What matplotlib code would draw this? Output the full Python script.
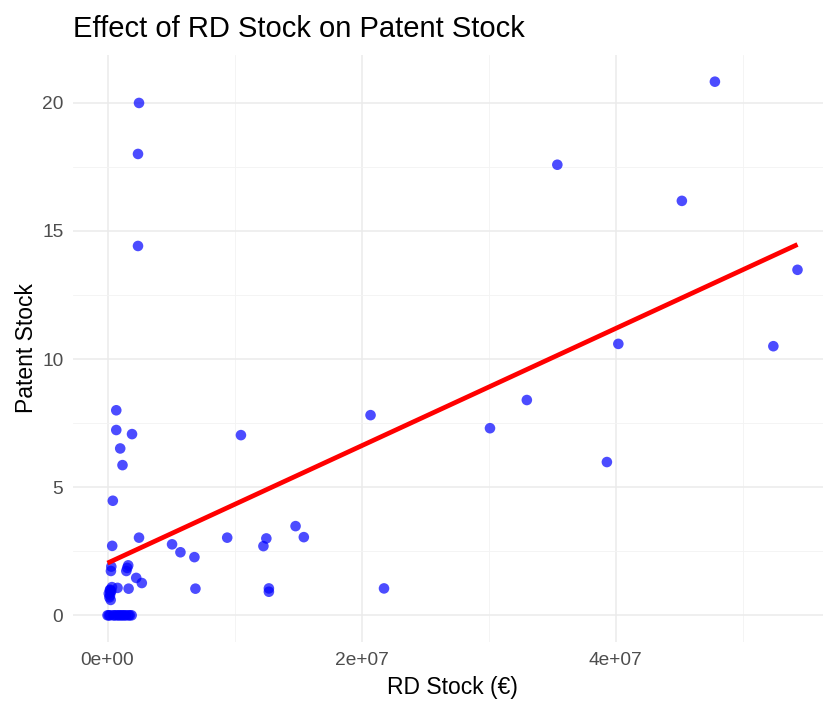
import matplotlib
matplotlib.use("Agg")
import matplotlib.pyplot as plt
import numpy as np
from matplotlib.ticker import MultipleLocator, FixedLocator

plt.rcParams['font.family'] = ['Liberation Sans', 'DejaVu Sans']

rd_stock = [
    0.69e6, 0.69e6, 1.93e6, 1.0e6, 1.18e6, 0.42e6, 10.5e6, 2.48e6, 0.37e6,
    5.08e6, 5.74e6, 6.84e6, 9.42e6, 12.27e6, 12.5e6, 1.63e6, 1.48e6, 1.55e6,
    2.26e6, 2.7e6, 0.27e6, 0.3e6, 0.2e6, 0.25e6, 0.2e6, 0.79e6, 1.66e6,
    6.92e6, 12.7e6, 12.7e6,
    0.1e6, 0.3e6, 0.15e6, 0.35e6, 0.25e6, 0.2e6,
    0.0, 0.2e6, 0.45e6, 0.7e6, 0.95e6, 1.2e6, 1.45e6, 1.65e6, 1.9e6,
    0.1e6, 0.55e6, 0.85e6, 1.1e6, 1.35e6, 1.75e6,
    2.48e6, 2.4e6, 2.4e6,
    14.8e6, 15.45e6, 20.7e6, 21.76e6, 30.1e6, 33.0e6, 35.4e6, 39.3e6,
    40.2e6, 45.2e6, 47.8e6, 52.4e6, 54.3e6,
]
patent_stock = [
    8.0, 7.23, 7.07, 6.51, 5.86, 4.47, 7.03, 3.03, 2.71,
    2.77, 2.46, 2.27, 3.03, 2.70, 3.0, 1.95, 1.73, 1.85,
    1.46, 1.26, 1.73, 1.9, 0.98, 0.91, 0.78, 1.07, 1.04,
    1.04, 1.05, 0.92,
    0.85, 0.95, 0.7, 1.1, 0.6, 1.0,
    0.0, 0.0, 0.0, 0.0, 0.0, 0.0, 0.0, 0.0, 0.0,
    0.0, 0.0, 0.0, 0.0, 0.0, 0.0,
    19.99, 18.0, 14.41,
    3.48, 3.05, 7.81, 1.05, 7.3, 8.4, 17.58, 5.98,
    10.59, 16.17, 20.82, 10.5, 13.48,
]

x = np.array(rd_stock)
y = np.array(patent_stock)

W, H = 823, 713
fig = plt.figure(figsize=(W / 100, H / 100), dpi=100)
# panel spans 73..832 px horizontally (right side cropped like the reference)
ax = fig.add_axes([73 / W, (H - 642) / H, 759 / W, (642 - 55) / H])

ax.scatter(x, y, s=58, color='blue', alpha=0.7, edgecolors='none', zorder=3)

slope, intercept = np.polyfit(x, y, 1)
xs = np.linspace(x.min(), x.max(), 100)
ax.plot(xs, intercept + slope * xs, color='red', lw=3.4, zorder=4,
        solid_capstyle='butt')

xr = x.max() - x.min()
yr = y.max() - y.min()
ax.set_xlim(x.min() - 0.05 * xr, x.max() + 0.05 * xr)
ax.set_ylim(y.min() - 0.05 * yr, y.max() + 0.05 * yr)

ax.xaxis.set_major_locator(FixedLocator([0, 2e7, 4e7]))
ax.xaxis.set_minor_locator(FixedLocator([1e7, 3e7, 5e7]))
ax.set_xticklabels(['0e+00', '2e+07', '4e+07'])
ax.yaxis.set_major_locator(MultipleLocator(5))
ax.yaxis.set_minor_locator(MultipleLocator(2.5))

ax.grid(which='major', color='#EBEBEB', lw=1.1)
ax.grid(which='minor', color='#F3F3F3', lw=0.6)
ax.set_axisbelow(True)
for s in ax.spines.values():
    s.set_visible(False)
ax.tick_params(which='both', length=0, labelsize=13.8, colors='#4D4D4D', pad=7)

ax.set_xlabel('RD Stock (€)', fontsize=16.5, color='black', labelpad=5)
ax.set_ylabel('Patent Stock', fontsize=16.5, color='black', labelpad=3)
fig.text(73 / W, 1 - 29 / H, 'Effect of RD Stock on Patent Stock', fontsize=21,
         ha='left', va='center', color='black')

fig.savefig('out.png', dpi=100, facecolor='white')
